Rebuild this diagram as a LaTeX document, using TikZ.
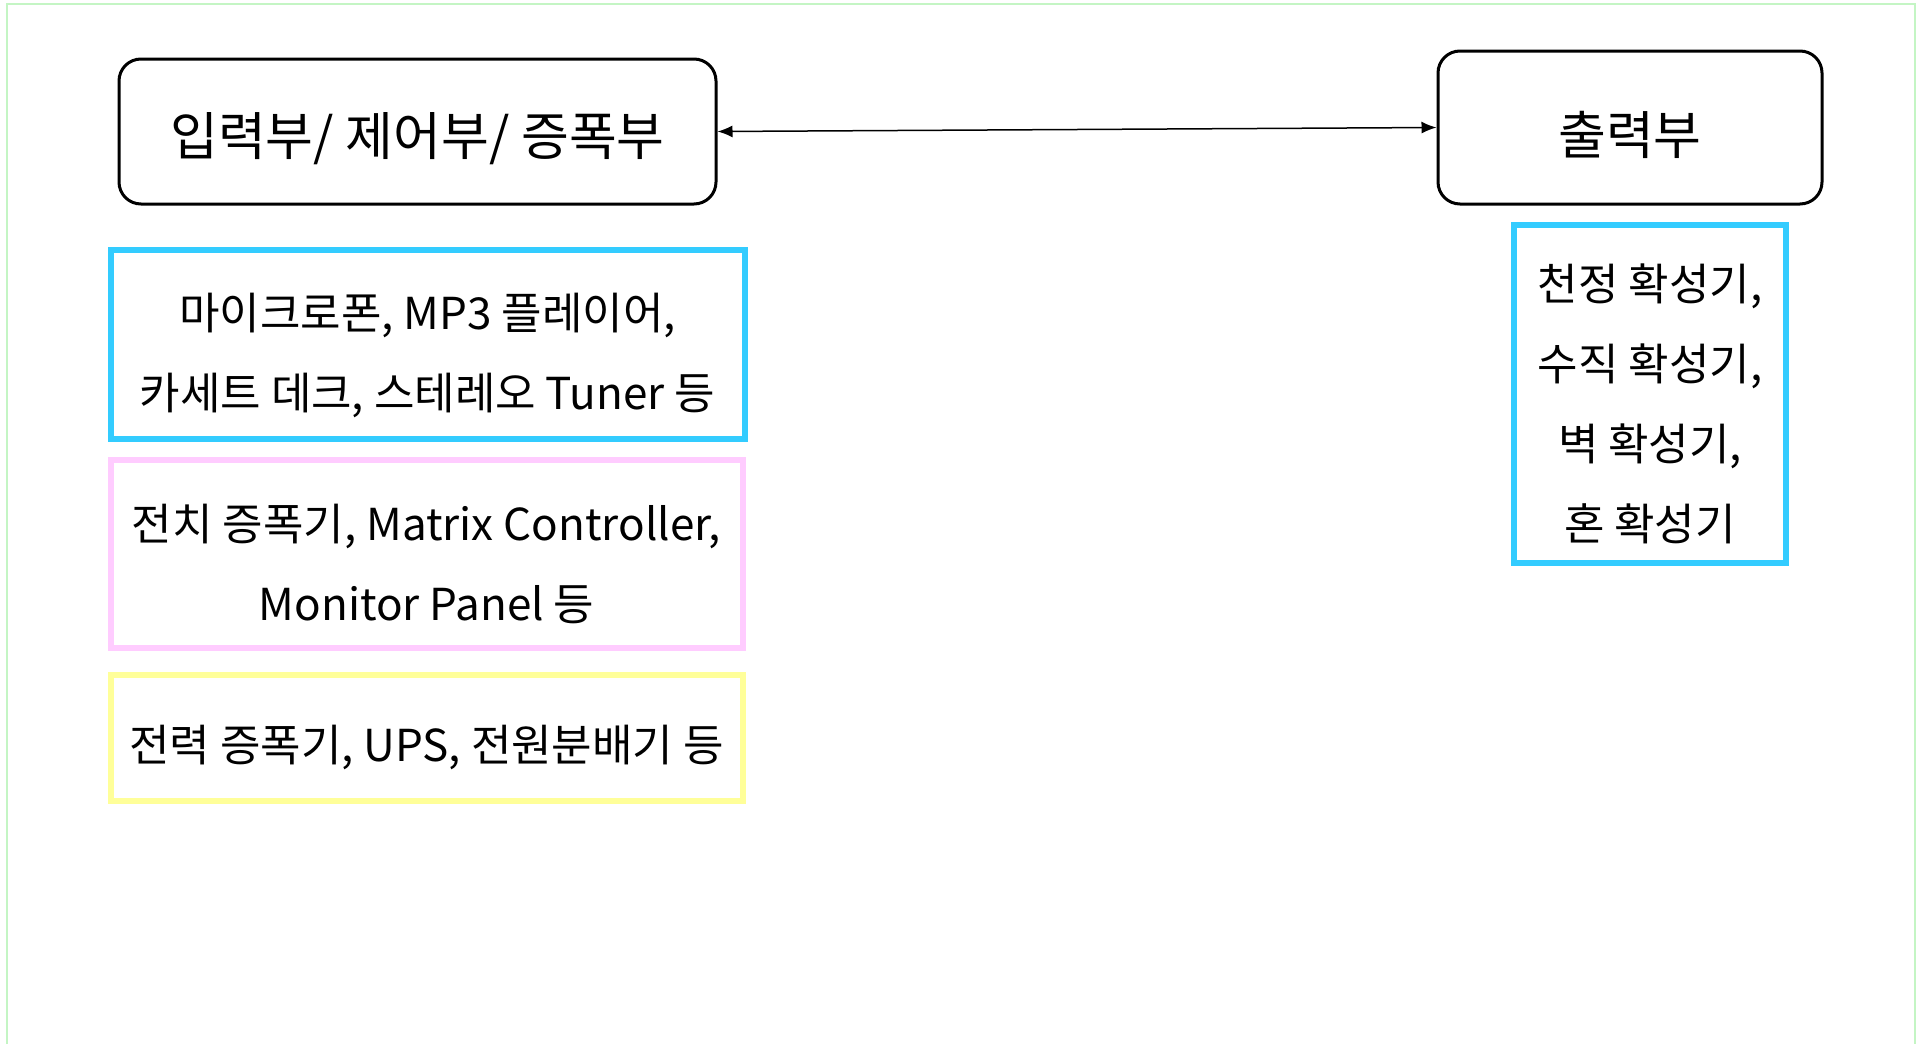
\documentclass[tikz,border=0pt]{standalone}
\usepackage{fontspec}
\setmainfont{Noto Sans CJK KR}
\usetikzlibrary{arrows.meta}
\definecolor{cyanbox}{RGB}{51,204,255}
\definecolor{pinkbox}{RGB}{255,204,255}
\definecolor{yellowbox}{RGB}{255,255,153}
\definecolor{framegreen}{RGB}{196,245,196}
\tikzset{
  unit/.style={draw=black, line width=3pt, rounded corners=22pt, inner sep=0pt},
  unittext/.style={inner sep=0pt, font=\fontsize{52}{60}\selectfont},
  listbox/.style={line width=6pt, inner sep=0pt},
  listtext/.style={inner sep=0pt, align=center, font=\fontsize{44}{80}\selectfont},
  link/.style={line width=1.5pt, {Latex[length=15pt,width=12pt]}-{Latex[length=15pt,width=12pt]}},
}
\begin{document}
\begin{tikzpicture}[x=1pt,y=-1pt]
\useasboundingbox (0,0) rectangle (1919,1044);
\draw[framegreen, line width=1.5pt] (7,1044) -- (7,4) -- (1915,4) -- (1915,1044);

\node[unit, minimum width=597pt, minimum height=145pt] (in) at (417.5,131.5) {};
\node[unittext] (in-t) at ([yshift=-7pt]in.center) {입력부/ 제어부/ 증폭부};
\node[unit, minimum width=384pt, minimum height=153pt] (out) at (1630,127.5) {};
\node[unittext] (out-t) at ([yshift=-7pt]out.center) {출력부};
\draw[link] (in.east) -- (out.west);

\node[listbox, draw=cyanbox, minimum width=634pt, minimum height=189pt] (src) at (427.5,344) {};
\node[listtext] (src-t) at ([yshift=-11pt]src.center)
  {마이크로폰, MP3 플레이어,\\카세트 데크, 스테레오 Tuner 등};
\node[listbox, draw=pinkbox, minimum width=632pt, minimum height=188pt] (ctl) at (426.5,553.5) {};
\node[listtext] (ctl-t) at ([yshift=-10pt]ctl.center)
  {전치 증폭기, Matrix Controller,\\Monitor Panel 등};
\node[listbox, draw=yellowbox, minimum width=632pt, minimum height=126pt] (pwr) at (426.5,737.5) {};
\node[listtext] (pwr-t) at ([yshift=-10pt]pwr.center)
  {전력 증폭기, UPS, 전원분배기 등};
\node[listbox, draw=cyanbox, minimum width=272pt, minimum height=338pt] (spk) at (1650,394) {};
\node[listtext] (spk-t) at ([yshift=-10pt]spk.center)
  {천정 확성기,\\수직 확성기,\\벽 확성기,\\혼 확성기};
\end{tikzpicture}
\end{document}
